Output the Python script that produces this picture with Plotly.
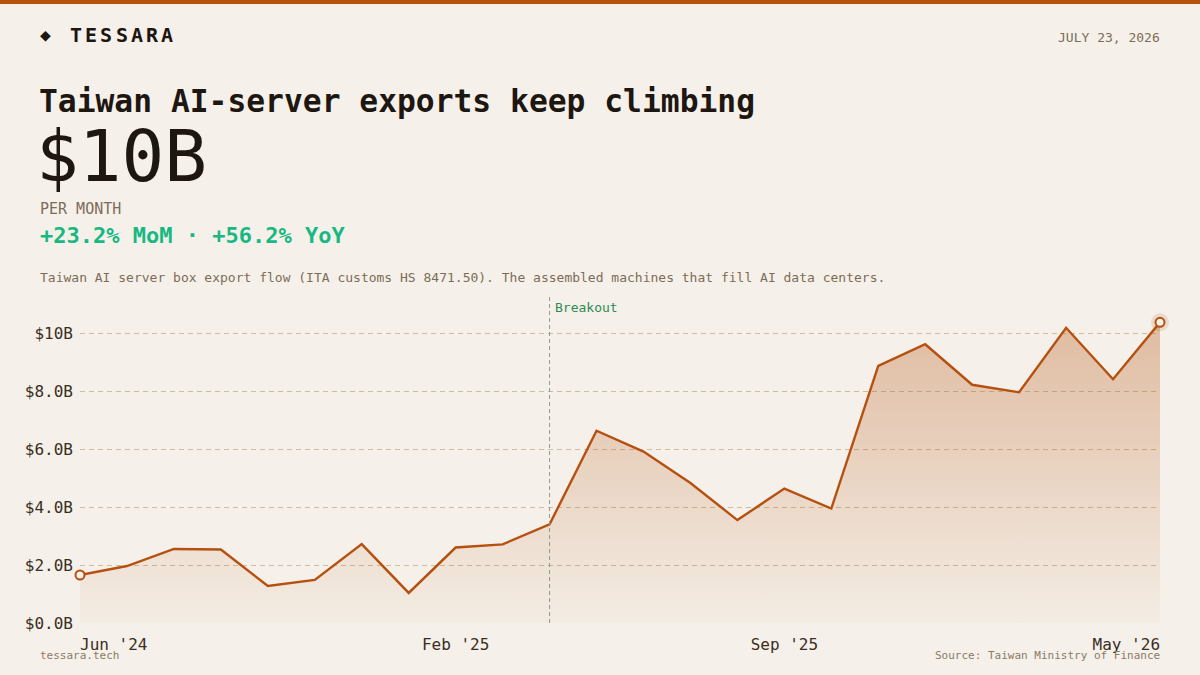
import plotly.graph_objects as go

# ---- data ----
months = ["Jun '24", "Jul '24", "Aug '24", "Sep '24", "Oct '24", "Nov '24", "Dec '24",
          "Jan '25", "Feb '25", "Mar '25", "Apr '25", "May '25", "Jun '25", "Jul '25",
          "Aug '25", "Sep '25", "Oct '25", "Nov '25", "Dec '25", "Jan '26", "Feb '26",
          "Mar '26", "Apr '26", "May '26"]
exports_bn = [1.66, 1.97, 2.56, 2.54, 1.28, 1.49, 2.73, 1.04, 2.61, 2.72, 3.41, 6.65,
              5.93, 4.84, 3.56, 4.65, 3.96, 8.89, 9.64, 8.24, 7.98, 10.21, 8.43, 10.40]
tick_months = ["Jun '24", "Feb '25", "Sep '25", "May '26"]
y_ticks = [0, 2, 4, 6, 8, 10]
y_tick_text = ["$0.0B", "$2.0B", "$4.0B", "$6.0B", "$8.0B", "$10B"]
breakout_month = "Apr '25"

BG = "#f5f1ea"
ORANGE = "#b5500f"
DARK = "#1e1610"
MUTED = "#7d6c57"
GREEN = "#17b882"
MONO = "DejaVu Sans Mono"

fig = go.Figure()
fig.add_trace(go.Scatter(
    x=months, y=exports_bn, mode="lines",
    line=dict(color=ORANGE, width=2.4),
    fill="tozeroy",
    fillgradient=dict(type="vertical",
                      colorscale=[[0, "rgba(181,80,15,0.03)"], [1, "rgba(181,80,15,0.33)"]]),
    hoverinfo="skip", showlegend=False))
# halo on latest point
fig.add_trace(go.Scatter(
    x=[months[-1]], y=[exports_bn[-1]], mode="markers", cliponaxis=False,
    marker=dict(size=18, color="rgba(181,80,15,0.15)"),
    hoverinfo="skip", showlegend=False))
fig.add_trace(go.Scatter(
    x=[months[0], months[-1]], y=[exports_bn[0], exports_bn[-1]], mode="markers",
    cliponaxis=False,
    marker=dict(size=9, color=BG, line=dict(color=ORANGE, width=2)),
    hoverinfo="skip", showlegend=False))

L, R, T, B = 80, 1160, 296, 623
def px(x):
    return (x - L) / (R - L)
def py(y):
    return (B - y) / (B - T)

tick_text = []
for m in tick_months:
    if m == months[0]:
        tick_text.append("\u00a0" * 7 + m)
    elif m == months[-1]:
        tick_text.append(m + "\u00a0" * 7)
    else:
        tick_text.append(m)

fig.update_layout(
    width=1200, height=675,
    paper_bgcolor=BG, plot_bgcolor=BG,
    margin=dict(l=L, r=1200 - R, t=T, b=675 - B, autoexpand=False),
    font=dict(family=MONO, color=DARK),
    xaxis=dict(type="category", range=[0, len(months) - 1], showgrid=False,
               zeroline=False, showline=False, ticks="", automargin=False,
               tickvals=tick_months, ticktext=tick_text, ticklabelstandoff=10,
               tickfont=dict(size=16, color="#3a2e22")),
    yaxis=dict(range=[0, 11.31], tickvals=y_ticks, ticktext=y_tick_text,
               showgrid=True, gridcolor="#d2bc98", griddash="5px,4px", gridwidth=1,
               zeroline=False, showline=False, ticks="", automargin=False,
               ticklabelstandoff=6,
               tickfont=dict(size=16, color="#3a2e22")),
    shapes=[
        dict(type="rect", xref="paper", yref="paper", x0=px(0), x1=px(1200),
             y0=py(0), y1=py(4), fillcolor=ORANGE, line=dict(width=0), layer="above"),
        dict(type="line", xref="x", yref="paper", x0=breakout_month, x1=breakout_month,
             y0=0, y1=1, line=dict(color="#8a9c8c", width=1, dash="4px,3px")),
    ],
)

ann = []
def text(x, y, s, size, color=DARK, xanchor="left", bold=False):
    ann.append(dict(xref="paper", yref="paper", x=px(x), y=py(y), text=(f"<b>{s}</b>" if bold else s),
                    showarrow=False, xanchor=xanchor, yanchor="middle",
                    font=dict(family=MONO, size=size, color=color)))

text(38, 35, "◆", 18)
for i, ch in enumerate("TESSARA"):
    text(68 + i * 15.2, 35, ch, 20, bold=True)
text(1162, 37, "JULY 23, 2026", 13, MUTED, xanchor="right")
text(37, 101, "Taiwan AI-server exports keep climbing", 31.3, bold=True)
text(34, 156, "$10B", 71)
text(38, 209, "PER MONTH", 15, MUTED)
text(38, 235, "+23.2% MoM · +56.2% YoY", 22, GREEN, bold=True)
text(38, 277, "Taiwan AI server box export flow (ITA customs HS 8471.50). The assembled machines that fill AI data centers.", 13, MUTED)
text(553, 307, "Breakout", 13, "#2e8a55")
text(38, 655, "tessara.tech", 11, "#8a7a66")
text(1162, 655, "Source: Taiwan Ministry of Finance", 11, "#8a7a66", xanchor="right")
fig.update_layout(annotations=ann)

fig.write_html("out.html")
